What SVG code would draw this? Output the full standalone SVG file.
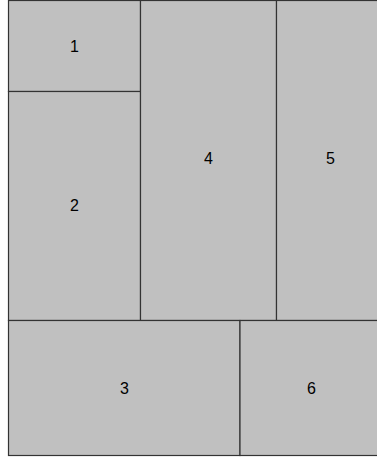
<svg xmlns="http://www.w3.org/2000/svg" width="377" height="459" viewBox="0 0 377 459">
<style>
.b{fill:#c0c0c0;stroke:#333;stroke-width:1.2}
.t{font-family:"Liberation Sans",Arial,sans-serif;font-size:16px;fill:#000;text-anchor:middle}
</style>
<rect width="377" height="459" fill="#fff"/>
<g id="n1"><rect class="b" x="8.5" y="0.5" width="132" height="91"/><text class="t" x="74.5" y="52">1</text></g>
<g id="n2"><rect class="b" x="8.5" y="91.5" width="132" height="229"/><text class="t" x="74.5" y="211">2</text></g>
<g id="n4"><rect class="b" x="140.5" y="0.5" width="136" height="320"/><text class="t" x="208.5" y="164">4</text></g>
<g id="n5"><rect class="b" x="276.5" y="0.5" width="108" height="320"/><text class="t" x="330.5" y="164">5</text></g>
<g id="n3"><rect class="b" x="8.5" y="320.5" width="231.5" height="135"/><text class="t" x="124.5" y="394">3</text></g>
<g id="n6"><rect class="b" x="240" y="320.5" width="143" height="135"/><text class="t" x="311.5" y="394">6</text></g>
<g id="connectors"></g>
</svg>
